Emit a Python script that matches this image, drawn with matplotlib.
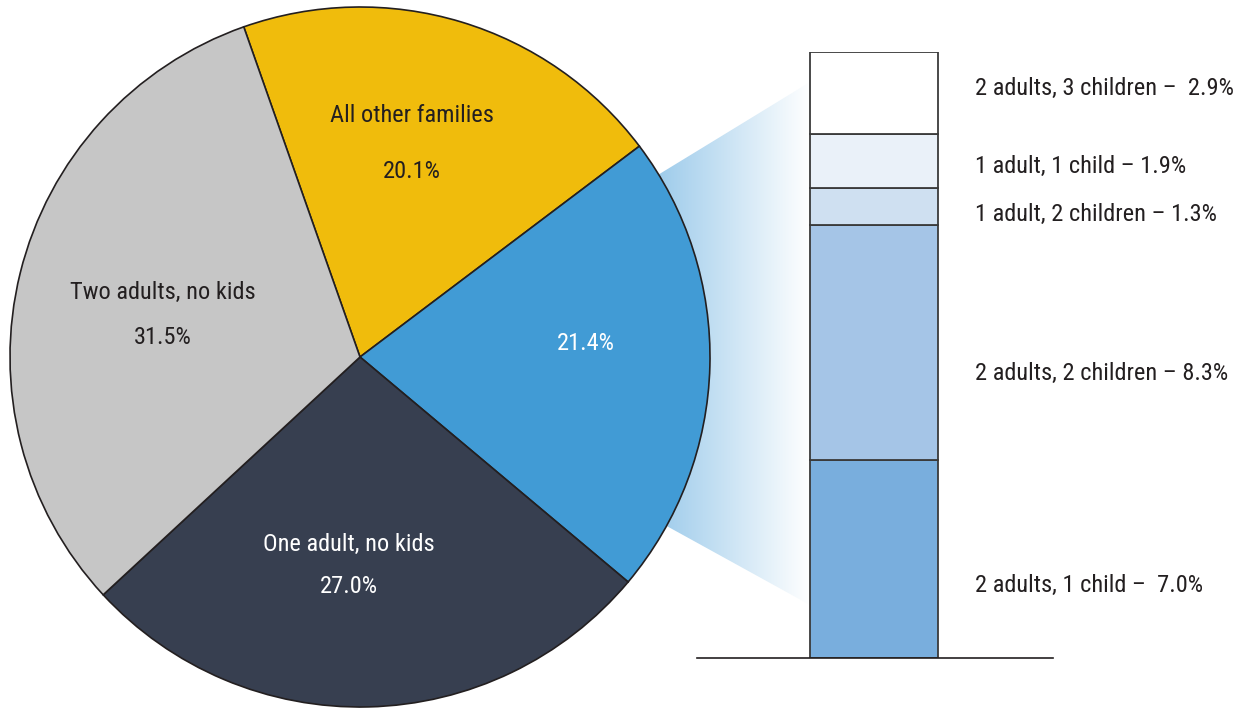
import numpy as np
import matplotlib.pyplot as plt
from matplotlib.patches import Polygon
from matplotlib.colors import LinearSegmentedColormap

plt.rcParams['font.family'] = ['Roboto Condensed', 'Open Sans Condensed', 'Liberation Sans Narrow',
                               'Roboto', 'DejaVu Sans']

# family shares, pie
pie_labels = ["All other families", "", "One adult, no kids", "Two adults, no kids"]
pie_values = [20.1, 21.4, 27.0, 31.5]
pie_colors = ["#f0bc0c", "#419bd5", "#373f50", "#c6c6c6"]
pie_text_colors = ["#231f20", "white", "white", "#231f20"]

# breakdown of the blue slice, bottom to top
bar_labels = ["2 adults, 1 child \u2013  7.0%", "2 adults, 2 children \u2013 8.3%",
              "1 adult, 2 children \u2013 1.3%", "1 adult, 1 child \u2013 1.9%",
              "2 adults, 3 children \u2013  2.9%"]
bar_values = [7.0, 8.3, 1.3, 1.9, 2.9]
bar_colors = ["#79aedd", "#a5c5e7", "#cfe0f1", "#eaf1f9", "#ffffff"]

W, H = 1245, 708
FS = 17.6
fig = plt.figure(figsize=(W / 100, H / 100), dpi=100)
ax = fig.add_axes([0, 0, 1, 1])

cx, cy, r = 360, 351, 350
wedges, _ = ax.pie(pie_values, colors=pie_colors, startangle=109.4, counterclock=False,
                   center=(cx, cy), radius=r,
                   wedgeprops=dict(edgecolor="#231f20", linewidth=1.2, zorder=3))
ax.set_xlim(0, W)
ax.set_ylim(0, H)
ax.set_aspect("equal")
ax.axis("off")

# label anchors inside each slice, as fractions of the radius, and half line gap
label_xy = [(0.149, 0.611), (0.646, 0.040), (-0.031, -0.597), (-0.563, 0.120)]
half_gap = [28, 0, 21, 23]
for val, lab, tc, (fx, fy), g in zip(pie_values, pie_labels, pie_text_colors, label_xy, half_gap):
    tx, ty = cx + fx * r, cy + fy * r
    if lab:
        ax.text(tx, ty + g, lab, ha="center", va="center", fontsize=FS, color=tc, zorder=5)
    ax.text(tx, ty - g, f"{val:.1f}%", ha="center", va="center", fontsize=FS, color=tc, zorder=5)

# fading wedge joining the blue slice to the bar
bar_left, bar_right = 810, 938
bar_bottom, bar_top = H - 658, H - 52
tri = Polygon([(cx, cy), (bar_left, H - 82), (bar_left, H - 605)], closed=True,
              facecolor="none", edgecolor="none")
ax.add_patch(tri)
fade = LinearSegmentedColormap.from_list("fade", ["#99c9ea", "#ffffff"])
grad = np.linspace(0, 1, 256).reshape(1, -1)
im = ax.imshow(grad, cmap=fade, extent=(650, bar_left, H - 620, H - 70),
               aspect="auto", zorder=1, interpolation="bilinear")
im.set_clip_path(tri)

# stacked bar on its own axes, in percent units
bax = fig.add_axes([697 / W, bar_bottom / H, (1053 - 697) / W, (bar_top - bar_bottom) / H])
bax.set_xlim(697, 1053)
bax.set_ylim(0, sum(bar_values))
bottom = 0
for val, col in zip(bar_values, bar_colors):
    bax.bar(874, val, bottom=bottom, width=bar_right - bar_left, color=col,
            edgecolor="#3a3a3a", linewidth=1.3)
    bottom += val

label_offsets = [-0.95, -1.1, -0.3, -0.2, 0.15]
bottom = 0
for val, lab, off in zip(bar_values, bar_labels, label_offsets):
    bax.text(975, bottom + val / 2 + off, lab, ha="left", va="center", fontsize=FS,
             color="#231f20", clip_on=False)
    bottom += val

for s in ["top", "left", "right"]:
    bax.spines[s].set_visible(False)
bax.spines["bottom"].set_color("#231f20")
bax.spines["bottom"].set_linewidth(1.2)
bax.set_xticks([])
bax.set_yticks([])
bax.patch.set_alpha(0)

fig.savefig("out.png", dpi=100)
